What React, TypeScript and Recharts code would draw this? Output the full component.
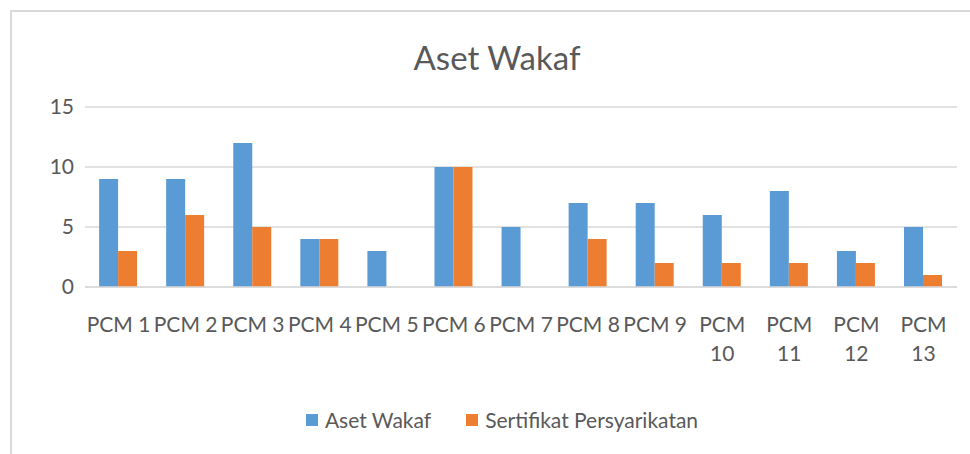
import { Bar, BarChart, CartesianGrid, XAxis, YAxis } from "recharts";

const categories = [
  "PCM 1", "PCM 2", "PCM 3", "PCM 4", "PCM 5", "PCM 6", "PCM 7",
  "PCM 8", "PCM 9", "PCM 10", "PCM 11", "PCM 12", "PCM 13",
];
const asetWakaf = [9, 9, 12, 4, 3, 10, 5, 7, 7, 6, 8, 3, 5];
const sertifikat = [3, 6, 5, 4, 0, 10, 0, 4, 2, 2, 2, 2, 1];
const yTicks = [0, 5, 10, 15];

const BLUE = "#5b9bd5";
const ORANGE = "#ed7d31";
const TEXT = "#595959";
const FONT = "Lato, 'Open Sans', sans-serif";

const data = categories.map((name, i) => ({
  name,
  aset: asetWakaf[i],
  sertifikat: sertifikat[i],
}));

// two-digit labels don't fit the band, Excel wraps them
function CategoryTick({ x, y, payload }: any) {
  const label: string = payload.value;
  const lines = label.length > 5 ? label.split(" ") : [label];
  return (
    <text x={x} y={y} textAnchor="middle" fill={TEXT} fontSize={21} fontFamily={FONT}>
      {lines.map((l, i) => (
        <tspan key={i} x={x} dy={i === 0 ? 43 : 29}>
          {l}
        </tspan>
      ))}
    </text>
  );
}

function ChartLegend() {
  const items = [
    { label: "Aset Wakaf", color: BLUE },
    { label: "Sertifikat Persyarikatan", color: ORANGE },
  ];
  return (
    <div
      style={{
        position: "absolute",
        top: 407,
        left: 0,
        width: 1004,
        display: "flex",
        justifyContent: "center",
        gap: 35,
        fontFamily: FONT,
        fontSize: 21,
        color: TEXT,
      }}
    >
      {items.map((it) => (
        <div key={it.label} style={{ display: "flex", alignItems: "center" }}>
          <span style={{ width: 12, height: 12, background: it.color, marginRight: 7, display: "inline-block" }} />
          {it.label}
        </div>
      ))}
    </div>
  );
}

export default function App() {
  return (
    <div style={{ position: "absolute", left: 0, top: 0, width: 970, height: 454, background: "#fff", overflow: "hidden" }}>
      <div
        style={{
          position: "absolute",
          left: 10,
          top: 10,
          width: 980,
          height: 470,
          borderLeft: "2px solid #d9d9d9",
          borderTop: "2px solid #d9d9d9",
        }}
      />
      <div
        style={{
          position: "absolute",
          top: 37,
          left: 0,
          width: 994,
          textAlign: "center",
          fontFamily: FONT,
          fontSize: 33,
          color: TEXT,
        }}
      >
        Aset Wakaf
      </div>
      <BarChart
        width={970}
        height={454}
        data={data}
        margin={{ top: 107, right: 13, left: 0, bottom: 0 }}
        barCategoryGap="21%"
        barGap={0}
        style={{ position: "absolute", left: 0, top: 0 }}
      >
        <CartesianGrid vertical={false} stroke="#d9d9d9" strokeWidth={1.5} />
        <XAxis
          dataKey="name"
          axisLine={{ stroke: "#d9d9d9", strokeWidth: 1.5 }}
          tickLine={false}
          tickSize={0}
          interval={0}
          height={167}
          tick={<CategoryTick />}
        />
        <YAxis
          domain={[0, 15]}
          ticks={yTicks}
          axisLine={false}
          tickLine={false}
          tickSize={0}
          tickMargin={11}
          width={85}
          tick={{ fill: TEXT, fontSize: 21, fontFamily: FONT }}
        />
        <Bar dataKey="aset" name="Aset Wakaf" fill={BLUE} isAnimationActive={false} />
        <Bar dataKey="sertifikat" name="Sertifikat Persyarikatan" fill={ORANGE} isAnimationActive={false} />
      </BarChart>
      <ChartLegend />
    </div>
  );
}
